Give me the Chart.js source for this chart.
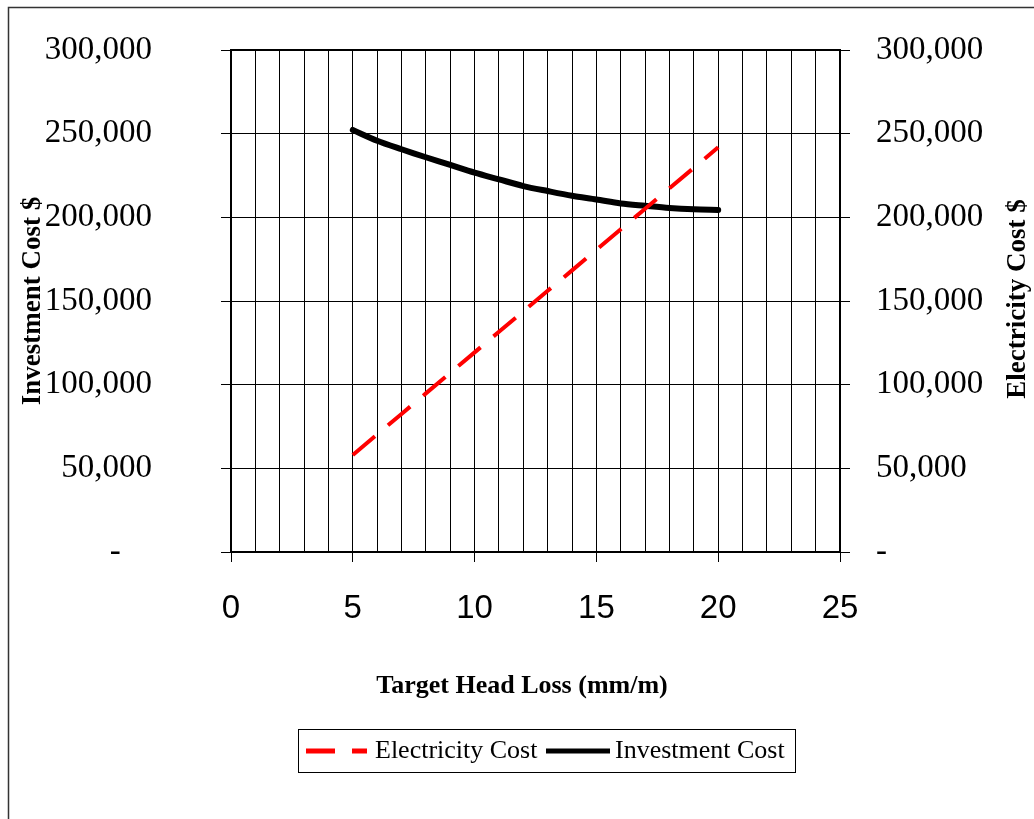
<!DOCTYPE html>
<html>
<head>
<meta charset="utf-8">
<script src="https://cdn.jsdelivr.net/npm/chart.js@4.4.1/dist/chart.umd.min.js"></script>
<style>
  html, body { margin: 0; padding: 0; background: #fff; }
  #wrap { width: 1034px; height: 819px; position: relative; }
</style>
</head>
<body>
<div id="wrap"><canvas id="chart"></canvas></div>
<script>
// Target head loss (mm/m) on the x axis
const headLoss = [5, 6, 7, 8, 9, 10, 11, 12, 13, 14, 15, 16, 17, 18, 19, 20];

// Series ($)
const electricityCost = [58000, 70300, 82500, 94800, 107000, 119300, 131600, 143800,
                         156100, 168300, 180600, 192900, 205100, 217400, 229600, 241900];
const investmentCost  = [252200, 245800, 240700, 235900, 231300, 226700, 222700, 218700,
                         215700, 212900, 210700, 208300, 206900, 205600, 204800, 204400];

const xTicks = [0, 5, 10, 15, 20, 25];
const yTicks = [0, 50000, 100000, 150000, 200000, 250000, 300000];

const seriesNames = ['Electricity Cost', 'Investment Cost'];
const titles = {
  x:     'Target Head Loss (mm/m)',
  left:  'Investment Cost $',
  right: 'Electricity Cost $',
};

const SERIF = '"Liberation Serif", "Times New Roman", serif';
const SANS  = '"Liberation Sans", Arial, sans-serif';

function fmtMoney(v, side) {
  if (v === 0) return side === 'left' ? '-   \u2009' : '-';
  return v.toLocaleString('en-US');
}

// la padding des ticks ne doit pas repousser le haut de la zone de tracé
function fixY(width) {
  return (s) => { s.width = width; s.paddingTop = 0; s.paddingBottom = 0; };
}

// ─── Decorations: frame, plot border, axis titles, boxed legend ─────────
const decor = {
  id: 'decor',
  beforeDraw(chart) {
    const c = chart.ctx;
    c.save();
    c.fillStyle = '#fff';
    c.fillRect(0, 0, chart.width, chart.height);
    c.restore();
  },
  afterDraw(chart) {
    const c = chart.ctx;
    const a = chart.chartArea;
    c.save();

    // outer frame (runs off the right / bottom edges)
    c.strokeStyle = '#333';
    c.lineWidth = 1.5;
    c.strokeRect(8.5, 7.5, 1200, 1000);

    // plot border
    c.strokeStyle = '#000';
    c.lineWidth = 2;
    c.strokeRect(a.left, a.top, a.right - a.left, a.bottom - a.top);

    // axis titles
    c.fillStyle = '#000';
    c.font = 'bold 26px ' + SERIF;
    c.textAlign = 'center';
    c.textBaseline = 'middle';
    c.fillText(titles.x, 522, 686);

    c.font = 'bold 27px ' + SERIF;
    c.save();
    c.translate(33, 301);
    c.rotate(-Math.PI / 2);
    c.fillText(titles.left, 0, 0);
    c.restore();

    c.save();
    c.translate(1018, 299);
    c.rotate(-Math.PI / 2);
    c.fillText(titles.right, 0, 0);
    c.restore();

    // legend
    c.strokeStyle = '#000';
    c.lineWidth = 1;
    c.strokeRect(298.5, 729.5, 497, 43);

    const ly = 751;
    const ds = chart.data.datasets;
    c.lineCap = 'butt';
    c.lineWidth = 5;
    c.strokeStyle = ds[0].borderColor;
    c.setLineDash(ds[0].borderDash);
    c.beginPath(); c.moveTo(306, ly); c.lineTo(367, ly); c.stroke();
    c.setLineDash([]);
    c.strokeStyle = ds[1].borderColor;
    c.beginPath(); c.moveTo(546, ly); c.lineTo(610, ly); c.stroke();

    c.font = '26px ' + SERIF;
    c.textAlign = 'left';
    c.fillStyle = '#000';
    c.fillText(seriesNames[0], 375, ly);
    c.fillText(seriesNames[1], 615, ly);

    c.restore();
  },
};

const gridCommon = { color: '#000', lineWidth: 1, tickLength: 10, drawTicks: true };

new Chart(document.getElementById('chart'), {
  type: 'line',
  data: {
    datasets: [
      {
        label: seriesNames[0],
        data: headLoss.map((x, i) => ({ x, y: electricityCost[i] })),
        yAxisID: 'y2',
        borderColor: '#ff0000',
        borderWidth: 4,
        borderDash: [29, 17],
        borderCapStyle: 'butt',
        pointRadius: 0,
        tension: 0,
        fill: false,
      },
      {
        label: seriesNames[1],
        data: headLoss.map((x, i) => ({ x, y: investmentCost[i] })),
        yAxisID: 'y',
        borderColor: '#000000',
        borderWidth: 6,
        borderCapStyle: 'round',
        pointRadius: 0,
        tension: 0.3,
        fill: false,
      },
    ],
  },
  options: {
    responsive: true,
    maintainAspectRatio: false,
    animation: false,
    layout: { padding: { top: 50, left: 0, right: 0, bottom: 0 } },
    plugins: {
      legend:  { display: false },
      tooltip: { enabled: false },
    },
    scales: {
      x: {
        type: 'linear',
        min: xTicks[0],
        max: xTicks[xTicks.length - 1],
        ticks: {
          stepSize: 1,
          autoSkip: false,
          maxRotation: 0,
          padding: 27,
          color: '#000',
          font: { family: SANS, size: 33 },
          callback: (v) => (xTicks.includes(v) ? String(v) : ''),
        },
        grid: {
          ...gridCommon,
          tickColor: (ctx) => (ctx.tick && ctx.tick.value % 5 === 0 ? '#000' : 'rgba(0,0,0,0)'),
        },
        border: { display: true, color: '#000', width: 2 },
        afterFit: (s) => { s.height = 267; },
      },
      y: {
        position: 'left',
        min: yTicks[0],
        max: yTicks[yTicks.length - 1],
        afterBuildTicks: (s) => { s.ticks = yTicks.map((v) => ({ value: v })); },
        ticks: {
          padding: 69,
          color: '#000',
          font: { family: SERIF, size: 33 },
          callback: (v) => fmtMoney(v, 'left'),
        },
        grid: { ...gridCommon },
        border: { display: true, color: '#000', width: 2 },
        afterFit: fixY(231),
      },
      y2: {
        position: 'right',
        min: yTicks[0],
        max: yTicks[yTicks.length - 1],
        afterBuildTicks: (s) => { s.ticks = yTicks.map((v) => ({ value: v })); },
        ticks: {
          padding: 26,
          color: '#000',
          font: { family: SERIF, size: 33 },
          callback: (v) => fmtMoney(v, 'right'),
        },
        grid: { ...gridCommon, drawOnChartArea: false },
        border: { display: true, color: '#000', width: 2 },
        afterFit: fixY(194),
      },
    },
  },
  plugins: [decor],
});
</script>
</body>
</html>
